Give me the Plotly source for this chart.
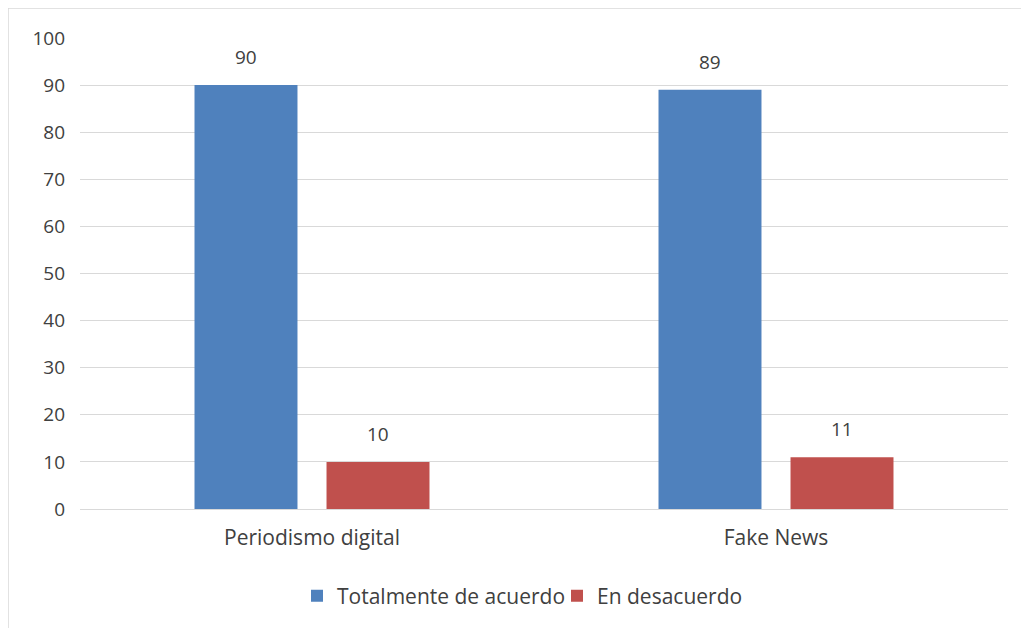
import plotly.graph_objects as go

categories = ["Periodismo digital", "Fake News"]
series_names = ["Totalmente de acuerdo", "En desacuerdo"]
totalmente = [90, 89]
desacuerdo = [10, 11]
colors = ["#4F81BD", "#C0504D"]
y_ticks = [0, 10, 20, 30, 40, 50, 60, 70, 80, 90, 100]

# page has an 8px body margin; figure sits at (8, 8)
OFF = 8
W, H = 1029 - OFF, 628 - OFF
L, R, T = 80 - OFF, 21, 38 - OFF
B = H - (509 - OFF)

fig = go.Figure()
for name, vals, col in zip(series_names, [totalmente, desacuerdo], colors):
    fig.add_trace(go.Bar(x=categories, y=vals, name=name, marker=dict(color=col, line=dict(width=0)),
                         hoverinfo="x+y+name"))

annotations = []
for shift, vals in zip([-66, 66], [totalmente, desacuerdo]):
    for c, v in zip(categories, vals):
        annotations.append(dict(x=c, y=v, text=str(v), showarrow=False, xshift=shift, yshift=28,
                                font=dict(size=19, color="#404040")))

pw = W - L - R
ph = H - T - B
fig.update_layout(
    width=W, height=H,
    margin=dict(l=L, r=R, t=T, b=B),
    paper_bgcolor="white", plot_bgcolor="white",
    font=dict(family="Open Sans", size=19, color="#404040"),
    barmode="group", bargap=0.431, bargroupgap=0.22,
    showlegend=True,
    legend=dict(orientation="h", x=0.5 + 13 / pw, xanchor="center", y=(509 - 596) / ph, yanchor="middle",
                font=dict(size=21, color="#404040"), traceorder="normal",
                entrywidthmode="pixels", entrywidth=215),
    xaxis=dict(showgrid=False, showline=False, ticks="", tickfont=dict(size=21, color="#404040"),
               ticklabelstandoff=14),
    yaxis=dict(range=[0, 100], tickvals=y_ticks, showgrid=True, gridcolor="#D9D9D9", gridwidth=1,
               zeroline=True, zerolinecolor="#D9D9D9", zerolinewidth=1, showline=False, ticks="",
               tickfont=dict(size=19, color="#404040"), ticklabelstandoff=14),
    annotations=annotations,
    shapes=[dict(type="rect", xref="paper", yref="paper",
                 x0=-L / pw, x1=(W + 20 - L) / pw, y0=-(B + 20) / ph, y1=(ph + T) / ph,
                 line=dict(color="#D9D9D9", width=1.5), fillcolor="rgba(0,0,0,0)", layer="below")],
)

fig.write_html("out.html")
